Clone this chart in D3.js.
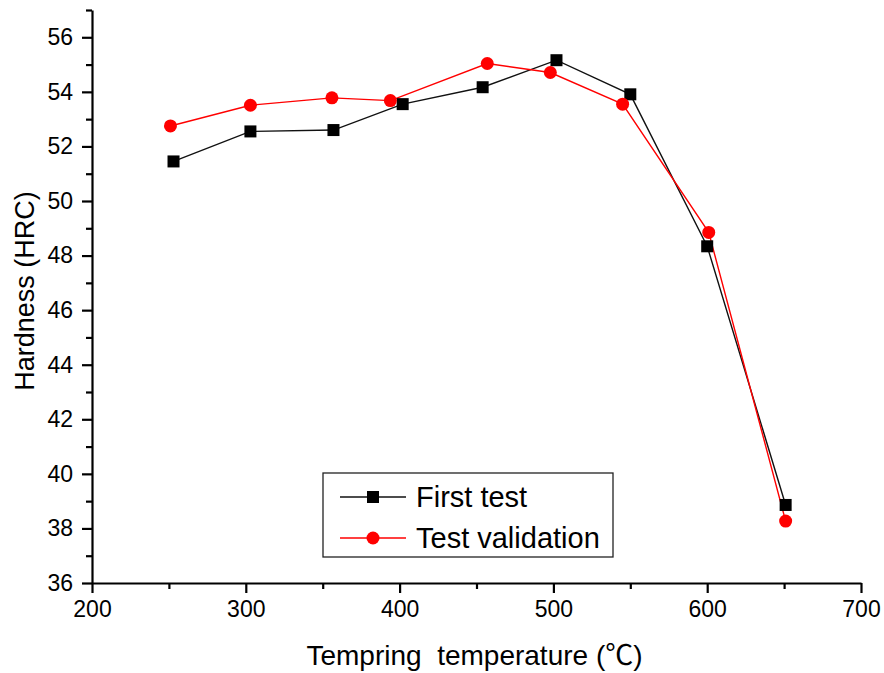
<!DOCTYPE html>
<html>
<head>
<meta charset="utf-8">
<script src="https://cdn.jsdelivr.net/npm/d3@7"></script>
<style>
  body { margin: 0; background: #fff; }
  svg text { font-family: "Liberation Sans", Arial, sans-serif; fill: #000; }
</style>
</head>
<body>
<div id="chart"></div>
<script>
// dữ liệu
const seriesNames = ["First test", "Test validation"];
const firstTemp = [253, 303, 357, 402, 454, 502, 550, 600, 651];
const firstHard = [51.45, 52.55, 52.6, 53.55, 54.17, 55.16, 53.91, 48.34, 38.86];
const validTemp = [251, 303, 356, 394, 457, 498, 545, 601, 651];
const validHard = [52.75, 53.51, 53.78, 53.68, 55.04, 54.71, 53.55, 48.85, 38.27];
const xTicks = [200, 300, 400, 500, 600, 700];
const yTicks = [36, 38, 40, 42, 44, 46, 48, 50, 52, 54, 56];

const W = 884, H = 673;
const margin = { top: 10, right: 23, bottom: 90, left: 92 };

const svg = d3.select("#chart").append("svg")
  .attr("width", W).attr("height", H);

const x = d3.scaleLinear().domain([200, 700]).range([margin.left, W - margin.right]);
const y = d3.scaleLinear().domain([36, 57]).range([H - margin.bottom, margin.top]);

const x0 = x(200), y0 = y(36);

// ==== Trục ====
const xMinor = d3.range(250, 700, 100);
const yMinor = d3.range(37, 58, 2);

const gx = svg.append("g").attr("transform", `translate(0,${y0})`);
gx.call(d3.axisBottom(x).tickValues(xTicks).tickSize(10).tickPadding(8).tickSizeOuter(0));
gx.append("g").call(d3.axisBottom(x).tickValues(xMinor).tickSize(6).tickFormat("").tickSizeOuter(0))
  .select(".domain").remove();

const gy = svg.append("g").attr("transform", `translate(${x0},0)`);
gy.call(d3.axisLeft(y).tickValues(yTicks).tickSize(10).tickPadding(9).tickSizeOuter(0));
gy.append("g").call(d3.axisLeft(y).tickValues(yMinor).tickSize(6).tickFormat("").tickSizeOuter(0))
  .select(".domain").remove();

svg.selectAll(".domain").attr("stroke", "#000").attr("stroke-width", 2.2);
svg.selectAll(".tick line").attr("stroke", "#000").attr("stroke-width", 2.2);
svg.selectAll(".tick text").style("font-size", "23px");

// ==== Tiêu đề trục ====
const xt = svg.append("text")
  .attr("x", (x0 + x(700)) / 2 - 2)
  .attr("y", 665)
  .attr("text-anchor", "middle")
  .style("font-size", "28px")
  .style("white-space", "pre")
  .attr("xml:space", "preserve");
xt.append("tspan").text("Tempring  temperature (");
xt.append("tspan").style("font-family", "'Noto Sans CJK SC', sans-serif").text("\u2103");
xt.append("tspan").text(")");

svg.append("text")
  .attr("transform", `translate(34,${291}) rotate(-90)`)
  .attr("text-anchor", "middle")
  .style("font-size", "27px")
  .text("Hardness (HRC)");

// ==== Đường & điểm ====
const line = d3.line().x(d => x(d[0])).y(d => y(d[1]));
const firstData = firstTemp.map((t, i) => [t, firstHard[i]]);
const validData = validTemp.map((t, i) => [t, validHard[i]]);

svg.append("path").datum(firstData)
  .attr("d", line).attr("fill", "none").attr("stroke", "#111").attr("stroke-width", 1.4);
svg.append("path").datum(validData)
  .attr("d", line).attr("fill", "none").attr("stroke", "#ff0000").attr("stroke-width", 1.4);

const sq = 12;
svg.selectAll(".sq").data(firstData).enter().append("rect")
  .attr("x", d => x(d[0]) - sq / 2).attr("y", d => y(d[1]) - sq / 2)
  .attr("width", sq).attr("height", sq).attr("fill", "#000");

svg.selectAll(".dot").data(validData).enter().append("circle")
  .attr("cx", d => x(d[0])).attr("cy", d => y(d[1]))
  .attr("r", 6.5).attr("fill", "#ff0000");

// ==== Chú giải ====
const lg = svg.append("g").attr("transform", "translate(323,473)");
lg.append("rect").attr("width", 290).attr("height", 84)
  .attr("fill", "#fff").attr("stroke", "#222").attr("stroke-width", 1.3);

const rows = [
  { name: seriesNames[0], color: "#111", shape: "sq", cy: 24 },
  { name: seriesNames[1], color: "#ff0000", shape: "dot", cy: 65 }
];
rows.forEach(r => {
  lg.append("line").attr("x1", 17).attr("x2", 83).attr("y1", r.cy).attr("y2", r.cy)
    .attr("stroke", r.color).attr("stroke-width", 1.4);
  if (r.shape === "sq") {
    lg.append("rect").attr("x", 50 - 6).attr("y", r.cy - 6).attr("width", 12).attr("height", 12).attr("fill", "#000");
  } else {
    lg.append("circle").attr("cx", 50).attr("cy", r.cy).attr("r", 6.5).attr("fill", "#ff0000");
  }
  lg.append("text").attr("x", 93).attr("y", r.cy + 10)
    .style("font-size", "29px").text(r.name);
});
</script>
</body>
</html>
